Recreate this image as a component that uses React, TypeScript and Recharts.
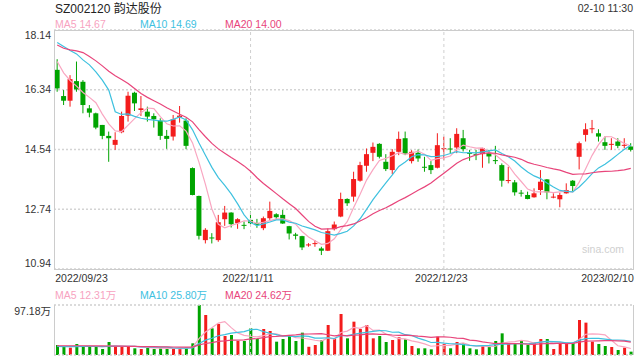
import React from 'react';
import { ComposedChart, Bar, Line, XAxis, YAxis, CartesianGrid, ReferenceLine, Cell } from 'recharts';

const dates = [
  '2022/09/23', '2022/09/26', '2022/09/27', '2022/09/28', '2022/09/29', '2022/09/30',
  '2022/10/10', '2022/10/11', '2022/10/12', '2022/10/13', '2022/10/14',
  '2022/10/17', '2022/10/18', '2022/10/19', '2022/10/20', '2022/10/21',
  '2022/10/24', '2022/10/25', '2022/10/26', '2022/10/27', '2022/10/28',
  '2022/10/31', '2022/11/01', '2022/11/02', '2022/11/03', '2022/11/04',
  '2022/11/07', '2022/11/08', '2022/11/09', '2022/11/10', '2022/11/11',
  '2022/11/14', '2022/11/15', '2022/11/16', '2022/11/17', '2022/11/18',
  '2022/11/21', '2022/11/22', '2022/11/23', '2022/11/24', '2022/11/25',
  '2022/11/28', '2022/11/29', '2022/11/30', '2022/12/01', '2022/12/02',
  '2022/12/05', '2022/12/06', '2022/12/07', '2022/12/08', '2022/12/09',
  '2022/12/12', '2022/12/13', '2022/12/14', '2022/12/15', '2022/12/16',
  '2022/12/19', '2022/12/20', '2022/12/21', '2022/12/22', '2022/12/23',
  '2022/12/26', '2022/12/27', '2022/12/28', '2022/12/29', '2022/12/30',
  '2023/01/03', '2023/01/04', '2023/01/05', '2023/01/06',
  '2023/01/09', '2023/01/10', '2023/01/11', '2023/01/12', '2023/01/13',
  '2023/01/16', '2023/01/17', '2023/01/18', '2023/01/19', '2023/01/20',
  '2023/01/30', '2023/01/31', '2023/02/01', '2023/02/02', '2023/02/03',
  '2023/02/06', '2023/02/07', '2023/02/08', '2023/02/09', '2023/02/10',
];

const opens = [
  16.94, 16.15, 16.01, 16.60, 16.58, 15.78, 15.63, 15.28, 14.95, 14.68,
  15.06, 15.56, 16.25, 15.73, 15.68, 15.55, 15.41, 14.95, 14.93, 15.51,
  15.41, 13.98, 13.14, 11.81, 11.89, 11.81, 12.44, 12.64, 12.32, 12.27,
  12.42, 12.32, 12.17, 12.47, 12.59, 12.57, 12.23, 11.98, 11.93, 11.66,
  11.70, 11.56, 11.49, 12.14, 12.52, 13.05, 13.12, 13.60, 14.05, 14.44,
  14.71, 14.17, 13.92, 14.47, 14.88, 14.19, 14.44, 14.02, 14.07, 13.99,
  14.56, 14.57, 14.60, 14.88, 14.44, 14.40, 14.40, 14.43, 14.22, 14.07,
  13.59, 13.55, 13.24, 13.17, 13.10, 13.32, 13.64, 13.11, 13.04, 13.22,
  13.60, 14.32, 14.98, 15.17, 15.03, 14.76, 14.70, 14.78, 14.67, 14.63,
];
const highs = [
  17.26, 16.33, 16.78, 17.19, 16.63, 15.88, 15.65, 15.28, 15.08, 15.06,
  15.68, 16.28, 16.28, 16.15, 15.83, 15.63, 15.48, 15.13, 15.58, 15.85,
  15.48, 14.00, 13.15, 12.17, 12.02, 12.57, 12.84, 12.65, 12.47, 12.37,
  12.67, 12.45, 12.52, 12.97, 12.62, 12.72, 12.24, 12.03, 11.94, 11.72,
  11.81, 11.61, 12.16, 12.37, 13.24, 13.07, 13.87, 14.17, 14.57, 14.75,
  14.73, 14.40, 14.55, 15.08, 15.08, 14.52, 14.54, 14.32, 14.19, 15.03,
  14.93, 14.88, 15.18, 15.13, 14.53, 14.53, 14.59, 14.53, 14.65, 14.12,
  14.02, 13.62, 13.32, 13.27, 13.37, 13.92, 13.65, 13.22, 13.24, 13.52,
  13.62, 14.78, 15.33, 15.43, 15.15, 14.93, 14.88, 14.88, 14.88, 14.73,
];
const lows = [
  16.28, 15.88, 15.83, 16.28, 15.63, 15.51, 15.15, 14.85, 14.17, 14.53,
  15.03, 15.38, 15.70, 15.55, 15.38, 15.20, 14.83, 14.56, 14.81, 15.35,
  14.55, 13.16, 11.83, 11.71, 11.71, 11.76, 12.24, 12.19, 12.15, 12.14,
  12.27, 12.18, 12.11, 12.42, 12.44, 12.30, 11.83, 11.83, 11.51, 11.61,
  11.61, 11.36, 11.48, 12.10, 12.50, 12.84, 12.97, 13.57, 13.87, 14.19,
  14.27, 13.89, 13.80, 14.37, 14.37, 14.12, 14.17, 13.87, 13.80, 13.97,
  14.22, 14.43, 14.43, 14.48, 14.20, 14.22, 13.99, 14.12, 14.10, 13.42,
  13.52, 13.15, 13.12, 13.04, 13.09, 13.17, 13.04, 13.07, 12.80, 13.21,
  13.27, 13.94, 14.78, 15.03, 14.78, 14.53, 14.53, 14.58, 14.58, 14.48,
];
const closes = [
  16.38, 16.01, 16.66, 16.35, 15.88, 15.65, 15.20, 14.95, 14.88, 14.83,
  15.55, 16.16, 15.93, 15.78, 15.53, 15.45, 14.95, 14.86, 15.45, 15.56,
  14.65, 13.17, 11.94, 12.12, 11.86, 12.35, 12.64, 12.29, 12.44, 12.24,
  12.32, 12.27, 12.47, 12.69, 12.50, 12.31, 12.01, 11.94, 11.59, 11.68,
  11.72, 11.49, 12.08, 12.28, 13.05, 12.92, 13.65, 14.07, 14.40, 14.62,
  14.32, 13.95, 14.47, 14.86, 14.40, 14.47, 14.27, 14.00, 13.92, 14.67,
  14.58, 14.55, 15.01, 14.55, 14.42, 14.39, 14.58, 14.33, 14.19, 13.60,
  13.62, 13.25, 13.22, 13.05, 13.22, 13.57, 13.25, 13.12, 13.17, 13.32,
  13.44, 14.73, 15.15, 15.18, 14.93, 14.65, 14.71, 14.65, 14.68, 14.53,
];
// volume in 万 (10k shares)
const volumes = [
  19.4, 16.2, 14.3, 21.4, 16.2, 16.2, 16.2, 11.7, 25.3, 16.2,
  16.2, 16.2, 13.0, 11.7, 16.2, 11.7, 13.0, 11.7, 13.0, 11.7,
  14.3, 22.7, 97.18, 77.8, 51.8, 60.3, 36.9, 38.9, 27.2, 27.2,
  51.8, 31.1, 50.5, 46.7, 25.9, 31.1, 37.6, 27.2, 43.4, 16.0,
  19.4, 29.2, 58.3, 32.4, 79.7, 32.4, 64.8, 50.5, 58.3, 32.4,
  36.9, 25.3, 29.2, 34.4, 30.5, 17.5, 13.0, 13.0, 11.0, 35.6,
  21.4, 13.0, 25.3, 22.7, 13.0, 11.0, 17.5, 16.2, 27.2, 42.1,
  22.7, 22.7, 27.2, 19.4, 24.0, 31.1, 31.1, 11.7, 22.7, 24.0,
  24.0, 68.0, 62.9, 25.9, 21.4, 17.5, 15.5, 9.7, 14.3, 6.5,
];

// moving-average values before a full window exists
const ma5Head = [17.19, 16.85, 16.62, 16.45];
const ma10Head = [17.76, 17.64, 17.52, 17.42, 17.24, 17.09, 16.88, 16.63, 16.33];
const ma20Head = [17.69, 17.59, 17.54, 17.51, 17.46, 17.34, 17.21, 17.06, 16.90, 16.76, 16.65, 16.53, 16.38, 16.23, 16.11, 16.01, 15.91, 15.80, 15.70];
const vma5Head = [17.5, 17.2, 17.0, 17.4];
const vma10Head = [16.5, 16.4, 16.3, 16.4, 16.5, 16.6, 16.5, 16.3, 16.6];
const vma20Head = [18, 18, 18, 18, 18, 17.9, 17.8, 17.6, 17.5, 17.3, 17.1, 16.9, 16.7, 16.5, 16.3, 16.1, 15.9, 15.7, 15.5];

const priceTicks = [10.94, 12.74, 14.54, 16.34, 18.14];
const volTicks = [0, 97.18];
const dateTicks = ['2022/09/23', '2022/11/11', '2022/12/23', '2023/02/10'];
const gridDates = ['2022/11/11', '2022/12/23'];

const title = 'SZ002120 韵达股份';
const timeText = '02-10 11:30';
const priceLegend = [
  { label: 'MA5 14.67', color: '#f7a3bf' },
  { label: 'MA10 14.69', color: '#3ec1df' },
  { label: 'MA20 14.00', color: '#e8457b' },
];
const volLegend = [
  { label: 'MA5 12.31万', color: '#f7a3bf' },
  { label: 'MA10 25.80万', color: '#3ec1df' },
  { label: 'MA20 24.62万', color: '#e8457b' },
];

const RED = '#f31c1c';
const GREEN = '#00a400';
const FONT = '"Liberation Sans", Arial, "Noto Sans CJK SC", sans-serif';

function movingAvg(values: number[], n: number, head: number[]) {
  return values.map((_, i) => {
    if (i < n - 1) return head[i];
    let s = 0;
    for (let k = i - n + 1; k <= i; k++) s += values[k];
    return s / n;
  });
}

const ma5 = movingAvg(closes, 5, ma5Head);
const ma10 = movingAvg(closes, 10, ma10Head);
const ma20 = movingAvg(closes, 20, ma20Head);
const vma5 = movingAvg(volumes, 5, vma5Head);
const vma10 = movingAvg(volumes, 10, vma10Head);
const vma20 = movingAvg(volumes, 20, vma20Head);

const data = dates.map((d, i) => ({
  date: d,
  open: opens[i],
  high: highs[i],
  low: lows[i],
  close: closes[i],
  range: [lows[i], highs[i]],
  vol: volumes[i],
  ma5: ma5[i],
  ma10: ma10[i],
  ma20: ma20[i],
  vma5: vma5[i],
  vma10: vma10[i],
  vma20: vma20[i],
}));

const Candle = (props: any) => {
  const { x, y, width, height, payload } = props;
  if (x == null || y == null) return null;
  const top = Math.min(y, y + height);
  const bottom = Math.max(y, y + height);
  const { open, close, high, low } = payload;
  const span = high - low || 1;
  const toY = (p: number) => top + ((high - p) / span) * (bottom - top);
  const up = close >= open;
  const color = up ? RED : GREEN;
  const cx = x + width / 2;
  const bTop = toY(Math.max(open, close));
  const bBot = toY(Math.min(open, close));
  const bw = 5;
  return (
    <g>
      <line x1={cx} x2={cx} y1={top} y2={bottom} stroke={color} strokeWidth={1} />
      <rect x={cx - bw / 2} y={bTop} width={bw} height={Math.max(1, bBot - bTop)} fill={color} />
    </g>
  );
};

const PriceTick = (props: any) => {
  const { x, y, payload } = props;
  const v = payload.value;
  let by = y + 3.7;
  if (v === priceTicks[priceTicks.length - 1]) by = y + 9;
  if (v === priceTicks[0]) by = y - 2;
  return (
    <text x={x} y={by} textAnchor="end" fontSize={10.5} fill="#333" fontFamily={FONT}>
      {v.toFixed(2)}
    </text>
  );
};

const VolTick = (props: any) => {
  const { x, y, payload } = props;
  const v = payload.value;
  const by = v === 0 ? y - 3.3 : y + 10;
  return (
    <text x={x} y={by} textAnchor="end" fontSize={10.5} fill="#333" fontFamily={FONT}>
      {v === 0 ? '0' : `${v}万`}
    </text>
  );
};

const DateTick = (props: any) => {
  const { x, y, payload } = props;
  const v = payload.value;
  const anchor = v === dateTicks[0] ? 'start' : v === dateTicks[dateTicks.length - 1] ? 'end' : 'middle';
  const dx = anchor === 'start' ? -2 : anchor === 'end' ? 3 : -2.5;
  return (
    <text x={x + dx} y={y + 12.5} textAnchor={anchor} fontSize={10.5} fill="#333" fontFamily={FONT}>
      {v}
    </text>
  );
};

export default function App() {
  return (
    <div style={{ position: 'absolute', left: 0, top: 0, width: 640, height: 360, background: '#fff', fontFamily: FONT }}>
      <svg width={640} height={360} style={{ position: 'absolute', left: 0, top: 0 }}>
        <text x={55} y={12.5} fontSize={12} fill="#222" fontFamily={FONT}>{title}</text>
        <text x={633} y={12} fontSize={10.5} fill="#333" textAnchor="end" fontFamily={FONT}>{timeText}</text>
        {priceLegend.map((l, i) => (
          <text key={l.label} x={55 + i * 85} y={27.5} fontSize={10.5} fill={l.color} fontFamily={FONT}>{l.label}</text>
        ))}
        {volLegend.map((l, i) => (
          <text key={l.label} x={55 + i * 85} y={299} fontSize={10.5} fill={l.color} fontFamily={FONT}>{l.label}</text>
        ))}
        <text x={582} y={253} fontSize={10.5} fill="#cfcfcf" fontFamily={FONT}>sina.com</text>
      </svg>

      <div style={{ position: 'absolute', left: 0, top: 0 }}>
        <ComposedChart width={640} height={290} data={data} margin={{ top: 30, right: 6, bottom: 0, left: 0 }}>
          <CartesianGrid horizontal vertical={false} stroke="#d4d4d4" strokeDasharray="2 2" strokeWidth={1.3} />
          <XAxis dataKey="date" type="category" ticks={dateTicks} interval={0} height={21} tickSize={0} tickMargin={0} axisLine={false} tickLine={false} tick={DateTick} />
          <YAxis type="number" domain={[10.94, 18.14]} ticks={priceTicks} width={54} tickSize={0} tickMargin={3} axisLine={false} tickLine={false} tick={PriceTick} allowDataOverflow />
          {gridDates.map((d) => (
            <ReferenceLine key={d} x={d} stroke="#cfcfcf" strokeDasharray="3 3" />
          ))}
          <Bar dataKey="range" shape={Candle} isAnimationActive={false} barCategoryGap={1} />
          <Line type="linear" dataKey="ma5" stroke="#f9a6c1" strokeWidth={1.2} dot={false} isAnimationActive={false} />
          <Line type="linear" dataKey="ma10" stroke="#3ec1df" strokeWidth={1.2} dot={false} isAnimationActive={false} />
          <Line type="linear" dataKey="ma20" stroke="#e8457b" strokeWidth={1.2} dot={false} isAnimationActive={false} />
        </ComposedChart>
      </div>
      <div style={{ position: 'absolute', left: 54, top: 30, width: 580, height: 240, border: '1px solid #cccccc', boxSizing: 'border-box', pointerEvents: 'none' }} />

      <div style={{ position: 'absolute', left: 0, top: 290 }}>
        <ComposedChart width={640} height={70} data={data} margin={{ top: 15, right: 6, bottom: 5, left: 0 }}>
          <XAxis dataKey="date" type="category" hide />
          <YAxis type="number" domain={[0, 97.18]} ticks={volTicks} width={54} tickSize={0} tickMargin={3} axisLine={false} tickLine={false} tick={VolTick} allowDataOverflow />
          {volTicks.map((v) => (
            <ReferenceLine key={v} y={v} stroke="#cfcfcf" strokeDasharray="2 2" strokeWidth={1.3} />
          ))}
          {gridDates.map((d) => (
            <ReferenceLine key={d} x={d} stroke="#cfcfcf" strokeDasharray="3 3" />
          ))}
          <Bar dataKey="vol" barSize={3} isAnimationActive={false}>
            {data.map((d, i) => (
              <Cell key={i} fill={d.close >= d.open ? RED : GREEN} />
            ))}
          </Bar>
          <Line type="linear" dataKey="vma5" stroke="#f9a6c1" strokeWidth={1.2} dot={false} isAnimationActive={false} />
          <Line type="linear" dataKey="vma10" stroke="#3ec1df" strokeWidth={1.2} dot={false} isAnimationActive={false} />
          <Line type="linear" dataKey="vma20" stroke="#e8457b" strokeWidth={1.2} dot={false} isAnimationActive={false} />
        </ComposedChart>
      </div>
      <div style={{ position: 'absolute', left: 54, top: 305, width: 580, height: 50, borderLeft: '1px solid #cccccc', borderRight: '1px solid #cccccc', boxSizing: 'border-box', pointerEvents: 'none' }} />
    </div>
  );
}
